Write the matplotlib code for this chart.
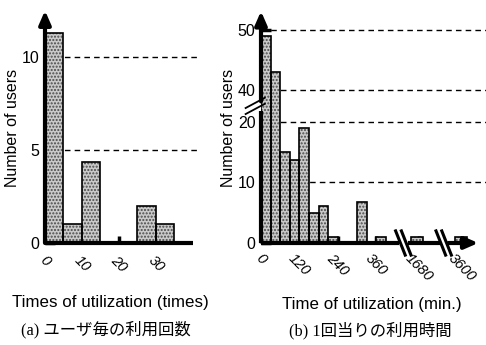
import numpy as np
import matplotlib.pyplot as plt

plt.rcParams['font.family'] = ['Liberation Sans', 'DejaVu Sans']
plt.rcParams['hatch.linewidth'] = 1.0

# (a) times of utilization per user, bins of 5 times
a_left = [0, 5, 10, 15, 20, 25, 30]
a_users = [11.3, 1, 4.35, 0, 0, 2, 1]
a_ticks = [0, 10, 20, 30]

# (b) minutes per session, bins of 30 min (last two bins drawn past axis breaks)
b_left = [0, 30, 60, 90, 120, 150, 180, 210, 300, 360, 1680, 3600]
b_users = [49, 43, 15, 13.7, 19, 5, 6.1, 1, 6.7, 1, 1, 1]
b_ticks = [0, 120, 240, 360, 1680, 3600]
b_yticks = [0, 10, 20, 40, 50]


def xpos(m):
    # compressed minute axis
    if m <= 400:
        return m / 30
    if m <= 2000:
        return 15.6 + (m - 1680) / 30
    return 20.2 + (m - 3600) / 30


def ypos(v):
    # broken value axis (gap between 20 and 40)
    return v if v <= 25 else v - 14.75


def stipple_bars(ax, x, h, w):
    ax.bar(x, h, w, align='edge', color='#cacaca', hatch='.....',
           edgecolor='#4a4a4a', linewidth=0, zorder=2)
    ax.bar(x, h, w, align='edge', fill=False, edgecolor='black',
           linewidth=1.2, zorder=3)


arrow = dict(arrowstyle='-|>,head_width=0.35,head_length=0.8',
             color='black', lw=3, shrinkA=0, shrinkB=0)

fig = plt.figure(figsize=(4.86, 3.45), dpi=100)
W, H = 486, 345

# ---------- left panel
ax1 = fig.add_axes([45 / W, 1 - 243 / H, 155 / W, 230 / H])
ax1.set_xlim(0, 41.9)
ax1.set_ylim(0, 12.37)
stipple_bars(ax1, a_left, a_users, 5)
for v in [5, 10]:
    ax1.axhline(v, color='black', lw=1, ls=(0, (4, 3)), zorder=1)
for s in ax1.spines.values():
    s.set_visible(False)
ax1.plot([0, 40], [0, 0], color='black', lw=3, solid_capstyle='butt', zorder=4, clip_on=False)
ax1.annotate('', xy=(0, 12.5), xytext=(0, 0), arrowprops=arrow,
             annotation_clip=False, zorder=4)
ax1.set_yticks([0, 5, 10])
ax1.set_xticks(a_ticks)
ax1.tick_params(axis='y', direction='in', length=7, width=2.5, labelsize=11.5, pad=4)
ax1.tick_params(axis='x', direction='in', length=5, width=2.5, pad=7)
ax1.set_xticklabels([str(t) for t in a_ticks], rotation=-45, style='italic', fontsize=10.5)
ax1.set_ylabel('Number of users', fontsize=11.5, labelpad=1)

# ---------- right panel
ax2 = fig.add_axes([261 / W, 1 - 243 / H, 225 / W, 230 / H])
ax2.set_xlim(0, 23.4)
ax2.set_ylim(0, 38.0)
bx = [xpos(m) for m in b_left]
bw = [1.0 if m <= 400 else 1.2 for m in b_left]
stipple_bars(ax2, bx, [ypos(v) for v in b_users], bw)
for v in [10, 20, 40, 50]:
    ax2.axhline(ypos(v), color='black', lw=1, ls=(0, (4, 3)), zorder=1)
for s in ax2.spines.values():
    s.set_visible(False)
# x axis with two breaks and an arrow
ax2.plot([0, 14.4], [0, 0], color='black', lw=3, solid_capstyle='butt', zorder=4, clip_on=False)
ax2.plot([15.3, 18.6], [0, 0], color='black', lw=3, solid_capstyle='butt', zorder=4, clip_on=False)
ax2.annotate('', xy=(22.6, 0), xytext=(19.5, 0), arrowprops=arrow,
             annotation_clip=False, zorder=4)
for x0 in [14.0, 18.2]:
    for dx in [0, 0.6]:
        ax2.plot([x0 + dx, x0 + dx + 1.0], [2.0, -2.0], color='black', lw=2.2,
                 zorder=5, clip_on=False)
# y axis with break
ax2.plot([0, 0], [0, 21.8], color='black', lw=3, solid_capstyle='butt', zorder=4, clip_on=False)
ax2.annotate('', xy=(0, 38.3), xytext=(0, 23.4), arrowprops=arrow,
             annotation_clip=False, zorder=4)
for dy in [0, 1.0]:
    ax2.plot([-1.6, 0.4], [21.3 + dy, 23.0 + dy], color='black', lw=1.3,
             zorder=5, clip_on=False)
ax2.set_yticks([ypos(v) for v in b_yticks])
ax2.set_yticklabels([str(v) for v in b_yticks])
tpos = [xpos(m) for m in b_ticks[:4]] + [16.4, 20.9]
ax2.set_xticks(tpos)
ax2.tick_params(axis='y', direction='in', length=7, width=2.5, labelsize=11.5, pad=4)
ax2.tick_params(axis='x', direction='in', length=5, width=2.5, pad=6)
ax2.set_xticklabels([str(t) for t in b_ticks], rotation=-45, style='italic', fontsize=10.5)
ax2.set_ylabel('Number of users', fontsize=11.5, labelpad=1)

# ---------- axis titles and captions
fig.text(110 / W, 1 - 303 / H, 'Times of utilization (times)', ha='center', va='center', fontsize=12.2)
fig.text(372 / W, 1 - 304 / H, 'Time of utilization (min.)', ha='center', va='center', fontsize=12.2)
cap_font = ['Liberation Serif', 'Noto Sans CJK JP']
fig.text(106 / W, 1 - 330 / H, '(a) ユーザ毎の利用回数', ha='center', va='center',
         fontsize=11.8, family=cap_font)
fig.text(370 / W, 1 - 331 / H, '(b) 1回当りの利用時間', ha='center', va='center',
         fontsize=11.8, family=cap_font)

fig.savefig('out.png', dpi=100)
